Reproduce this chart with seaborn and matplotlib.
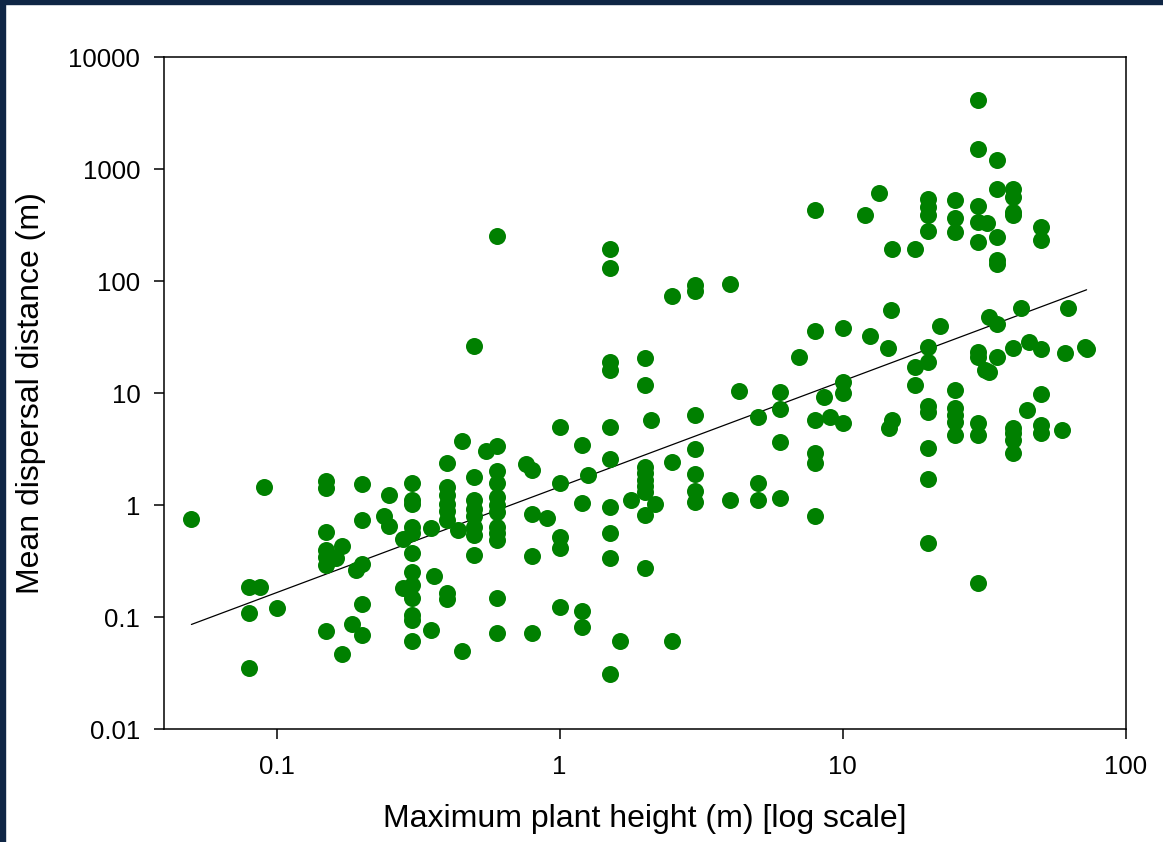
import numpy as np
import pandas as pd
import matplotlib
matplotlib.use("Agg")
import matplotlib.pyplot as plt
from matplotlib.patches import Rectangle
import seaborn as sns

# Maximum plant height (m) and mean dispersal distance (m)
height = [
    0.05,
    0.08, 0.087, 0.08, 0.08,
    0.09, 0.1,
    0.15, 0.15, 0.15, 0.15, 0.15, 0.15, 0.15,
    0.162, 0.17, 0.17, 0.185, 0.19,
    0.2, 0.2, 0.2, 0.2, 0.2,
    0.24, 0.25, 0.25, 0.28, 0.28,
    0.3, 0.3, 0.3, 0.3, 0.3, 0.3, 0.3, 0.3, 0.3, 0.3, 0.3, 0.3,
    0.352, 0.352, 0.36,
    0.4, 0.4, 0.4, 0.4, 0.4, 0.4, 0.4, 0.4,
    0.437, 0.45, 0.45,
    0.5, 0.5, 0.5, 0.5, 0.5, 0.5, 0.5, 0.5,
    0.55,
    0.6, 0.6, 0.6, 0.6, 0.6, 0.6, 0.6, 0.6, 0.6, 0.6, 0.6, 0.6,
    0.76, 0.8, 0.8, 0.9, 0.8, 0.8,
    1.0, 1.0, 1.0, 1.0, 1.0,
    1.2, 1.26, 1.2, 1.2, 1.2,
    1.5, 1.5, 1.5, 1.5, 1.5, 1.5, 1.5, 1.5, 1.5, 1.5,
    1.64, 1.79,
    2.0, 2.0, 2.0, 2.0, 2.0, 2.0, 2.0, 2.0, 2.0,
    2.1, 2.18,
    2.5, 2.5, 2.5,
    3.0, 3.0, 3.0, 3.0, 3.0, 3.0, 3.0,
    4.0, 4.0, 4.3,
    5.0, 5.0, 5.0,
    6.0, 6.0, 6.0, 6.0,
    7.0,
    8.0, 8.0, 8.0, 8.0, 8.0, 8.0,
    8.6, 9.0,
    10.0, 10.0, 10.0, 10.0,
    12.0, 12.5, 13.4,
    14.5, 14.8, 14.9, 14.6, 14.9,
    18.0, 18.0, 18.0,
    20.0, 20.0, 20.0, 20.0, 20.0, 20.0, 20.0, 20.0, 20.0, 20.0, 20.0,
    22.0,
    25.0, 25.0, 25.0, 25.0, 25.0, 25.0, 25.0, 25.0,
    30.0, 30.0, 30.0, 30.0, 30.0, 30.0, 30.0, 30.0, 30.0, 30.0,
    32.4, 33.0, 31.8, 33.0,
    35.0, 35.0, 35.0, 35.0, 35.0, 35.0, 35.0,
    40.0, 40.0, 40.0, 40.0, 40.0, 40.0, 40.0, 40.0, 40.0,
    42.7, 44.6, 45.5,
    50.0, 50.0, 50.0, 50.0, 50.0, 50.0,
    59.5, 61.0, 62.6, 71.5, 72.7,
]
dispersal = [
    0.75,
    0.186, 0.186, 0.108, 0.035,
    1.46, 0.121,
    1.64, 1.41, 0.58, 0.40, 0.345, 0.29, 0.075,
    0.334, 0.43, 0.047, 0.087, 0.263,
    1.53, 0.735, 0.30, 0.13, 0.069,
    0.79, 0.65, 1.22, 0.50, 0.183,
    1.58, 1.11, 1.03, 0.64, 0.56, 0.37, 0.25, 0.193, 0.149, 0.104, 0.094, 0.061,
    0.62, 0.077, 0.232,
    2.36, 1.46, 1.23, 1.03, 0.88, 0.73, 0.165, 0.144,
    0.60, 3.75, 0.050,
    26.3, 1.79, 1.11, 0.93, 0.79, 0.64, 0.54, 0.36,
    3.05,
    254, 3.4, 2.0, 1.56, 1.19, 1.0, 0.87, 0.64, 0.56, 0.49, 0.149, 0.072,
    2.31, 2.05, 0.84, 0.76, 0.35, 0.072,
    5.0, 1.56, 0.52, 0.41, 0.122,
    3.43, 1.85, 1.05, 0.114, 0.081,
    193, 130, 18.8, 16.0, 5.0, 2.56, 0.97, 0.566, 0.334, 0.031,
    0.061, 1.12,
    20.6, 11.8, 2.2, 1.92, 1.67, 1.49, 1.31, 0.81, 0.275,
    5.7, 1.03,
    74, 2.40, 0.061,
    92, 81, 6.4, 3.16, 1.89, 1.34, 1.07,
    95, 1.12, 10.4,
    6.07, 1.56, 1.11,
    10.3, 7.2, 3.63, 1.15,
    21,
    435, 35.7, 5.7, 2.93, 2.38, 0.80,
    9.3, 6.07,
    38, 12.5, 10.0, 5.43,
    386, 32.6, 611,
    25.3, 55, 5.8, 4.83, 192,
    192, 17.2, 11.7,
    540, 460, 385, 282, 25.9, 19.0, 7.6, 6.8, 3.2, 1.71, 0.455,
    39.6,
    526, 362, 275, 10.6, 7.3, 6.4, 5.5, 4.2,
    4100, 1520, 465, 338, 223, 23.4, 21.1, 5.35, 4.2, 0.202,
    330, 48, 16.0, 15.5,
    1200, 670, 248, 155, 142, 41.7, 21.1,
    670, 565, 415, 388, 25, 4.83, 4.37, 3.8, 2.93,
    56.9, 7.1, 28.7,
    305, 232, 24.6, 9.9, 5.2, 4.37,
    4.66, 22.6, 56.9, 25.9, 24.6,
]

# log-log fit line as drawn (log10 y = intercept + slope * log10 x)
fit_slope = 0.945
fit_intercept = 0.163

x_ticks = [0.1, 1, 10, 100]
x_labels = ["0.1", "1", "10", "100"]
y_ticks = [0.01, 0.1, 1, 10, 100, 1000, 10000]
y_labels = ["0.01", "0.1", "1", "10", "100", "1000", "10000"]

df = pd.DataFrame({"height": height, "dispersal": dispersal})
fit_x = np.array([min(height), max(height)])
fit_df = pd.DataFrame({"height": fit_x,
                       "dispersal": 10 ** (fit_intercept + fit_slope * np.log10(fit_x))})

sns.set_style("white")
plt.rcParams["font.family"] = ["Liberation Sans", "DejaVu Sans"]
plt.rcParams["text.color"] = "black"
plt.rcParams["axes.labelcolor"] = "black"
plt.rcParams["xtick.color"] = "black"
plt.rcParams["ytick.color"] = "black"

fig = plt.figure(figsize=(11.63, 8.42), dpi=100)
ax = fig.add_axes([0.141, 0.1342, 0.827, 0.798])

sns.scatterplot(data=df, x="height", y="dispersal", ax=ax, color="#008000",
                s=150, linewidth=0, zorder=3)
sns.lineplot(data=fit_df, x="height", y="dispersal", ax=ax, color="black",
             linewidth=0.9, zorder=2)

ax.set_xscale("log")
ax.set_yscale("log")
ax.set_xlim(0.04, 100)
ax.set_ylim(0.01, 10000)
ax.set_xticks(x_ticks)
ax.set_xticklabels(x_labels)
ax.set_yticks(y_ticks)
ax.set_yticklabels(y_labels)
ax.minorticks_off()
ax.tick_params(axis="both", direction="out", length=7, width=1.1,
               colors="black", labelsize=18.5, bottom=True, left=True)
ax.tick_params(axis="x", pad=12)
ax.tick_params(axis="y", pad=10)
for sp in ax.spines.values():
    sp.set_color("black")
    sp.set_linewidth(1.1)

ax.set_xlabel("Maximum plant height (m) [log scale]", fontsize=23, labelpad=18)
ax.set_ylabel("Mean dispersal distance (m)", fontsize=23, labelpad=16)

# dark frame on the left and top edges
fig.patches.append(Rectangle((0, 0), 5 / 1163, 1, transform=fig.transFigure,
                             color="#0f2645", zorder=10))
fig.patches.append(Rectangle((0, 1 - 4 / 842), 1, 4 / 842, transform=fig.transFigure,
                             color="#0f2645", zorder=10))

fig.savefig("out.png", dpi=100)
